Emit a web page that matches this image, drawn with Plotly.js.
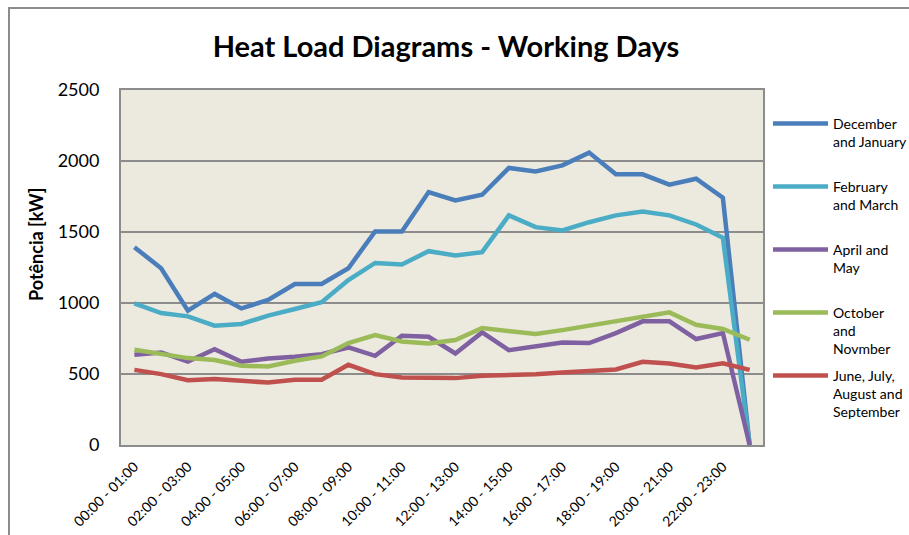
<!DOCTYPE html>
<html>
<head>
<meta charset="utf-8">
<script src="https://cdn.plot.ly/plotly-3.0.1.min.js"></script>
<style>html,body{margin:0;padding:0;background:#fff;}#chart{width:909px;height:535px;}</style>
</head>
<body>
<div id="chart"></div>
<script>
const categories = ["00:00 - 01:00","01:00 - 02:00","02:00 - 03:00","03:00 - 04:00","04:00 - 05:00","05:00 - 06:00","06:00 - 07:00","07:00 - 08:00","08:00 - 09:00","09:00 - 10:00","10:00 - 11:00","11:00 - 12:00","12:00 - 13:00","13:00 - 14:00","14:00 - 15:00","15:00 - 16:00","16:00 - 17:00","17:00 - 18:00","18:00 - 19:00","19:00 - 20:00","20:00 - 21:00","21:00 - 22:00","22:00 - 23:00","23:00 - 24:00"];
const tickLabels = ["00:00 - 01:00","02:00 - 03:00","04:00 - 05:00","06:00 - 07:00","08:00 - 09:00","10:00 - 11:00","12:00 - 13:00","14:00 - 15:00","16:00 - 17:00","18:00 - 19:00","20:00 - 21:00","22:00 - 23:00"];
const decJan  = [1393,1245,946,1064,962,1021,1134,1134,1245,1504,1504,1781,1722,1762,1951,1927,1969,2059,1906,1906,1833,1875,1741,0];
const febMar  = [998,929,906,840,852,911,958,1005,1162,1282,1271,1365,1334,1358,1617,1534,1511,1569,1617,1645,1617,1553,1459,0];
const aprMay  = [635,652,588,675,586,609,621,640,687,628,769,762,645,793,668,692,722,718,788,871,871,746,788,0];
const octNov  = [671,645,612,598,558,553,593,624,718,774,729,715,739,824,805,781,809,840,875,904,934,847,817,741];
const junSep  = [529,499,456,464,452,440,459,459,565,499,475,471,471,487,492,499,511,518,532,586,574,546,576,529];
const seriesNames = ["December<br>and January","February<br>and March","April and<br>May","October<br>and<br>Novmber","June, July,<br>August and<br>September"];
const seriesColors = ["#4A7EBB","#4BACC6","#7F60A0","#9BBB59","#C0504D"];
const seriesData = [decJan, febMar, aprMay, octNov, junSep];
const legendIds = ["legend","legend2","legend3","legend4","legend5"];

const traces = seriesData.map((d,i)=>({
  type:'scatter', mode:'lines', x:categories, y:d, name:seriesNames[i],
  line:{color:seriesColors[i], width:4.5}, legend:legendIds[i]
}));

const font = "Lato, 'Open Sans', sans-serif";
const legendTopPx = [108, 171, 234, 297, 360];
const layout = {
  width:909, height:535,
  margin:{l:121, r:146, t:90, b:90},
  paper_bgcolor:'#ffffff', plot_bgcolor:'#ECE9DF',
  font:{family:font, color:'#000', size:14},
  title:{text:'<b>Heat Load Diagrams - Working Days</b>', font:{family:font, size:29, color:'#000'}, x:446/909, xanchor:'center', y:1-47/535, yanchor:'middle'},
  xaxis:{type:'category', range:[-0.5,23.5], tickmode:'array', tickvals:tickLabels, ticktext:tickLabels,
         tickangle:-45, tickfont:{size:14, family:font}, showgrid:false, showline:true, linecolor:'#8c8c8c', linewidth:2,
         mirror:true, ticks:'outside', ticklen:6, tickcolor:'rgba(0,0,0,0)', zeroline:false, fixedrange:true},
  yaxis:{range:[0,2500], dtick:500, tickfont:{size:18, family:font}, showgrid:true, gridcolor:'#8c8c8c', gridwidth:1.5,
         showline:true, linecolor:'#8c8c8c', linewidth:2, mirror:true, ticks:'outside', ticklen:16, tickcolor:'rgba(0,0,0,0)',
         zeroline:false},
  annotations:[{text:'<b>Potência [kW]</b>', xref:'paper', yref:'paper', x:(36-121)/642, y:(445-245)/355,
                xanchor:'center', yanchor:'middle', textangle:-90, showarrow:false, font:{size:18, family:font}}],
  shapes:[{type:'rect', xref:'paper', yref:'paper', x0:(9-121)/642, x1:1.5, y0:-0.5, y1:(445-8)/355,
           line:{color:'#8c8c8c', width:2}, fillcolor:'rgba(0,0,0,0)', layer:'below'}],
  showlegend:true
};
legendIds.forEach((id,i)=>{
  layout[id] = {xref:'container', yref:'container', x:768/909, y:1-legendTopPx[i]/535, xanchor:'left', yanchor:'top',
    bgcolor:'rgba(0,0,0,0)', font:{size:14, family:font}, itemwidth:55, valign:'top', tracegroupgap:0};
});

Plotly.newPlot('chart', traces, layout, {displayModeBar:false, staticPlot:true});
</script>
</body>
</html>
